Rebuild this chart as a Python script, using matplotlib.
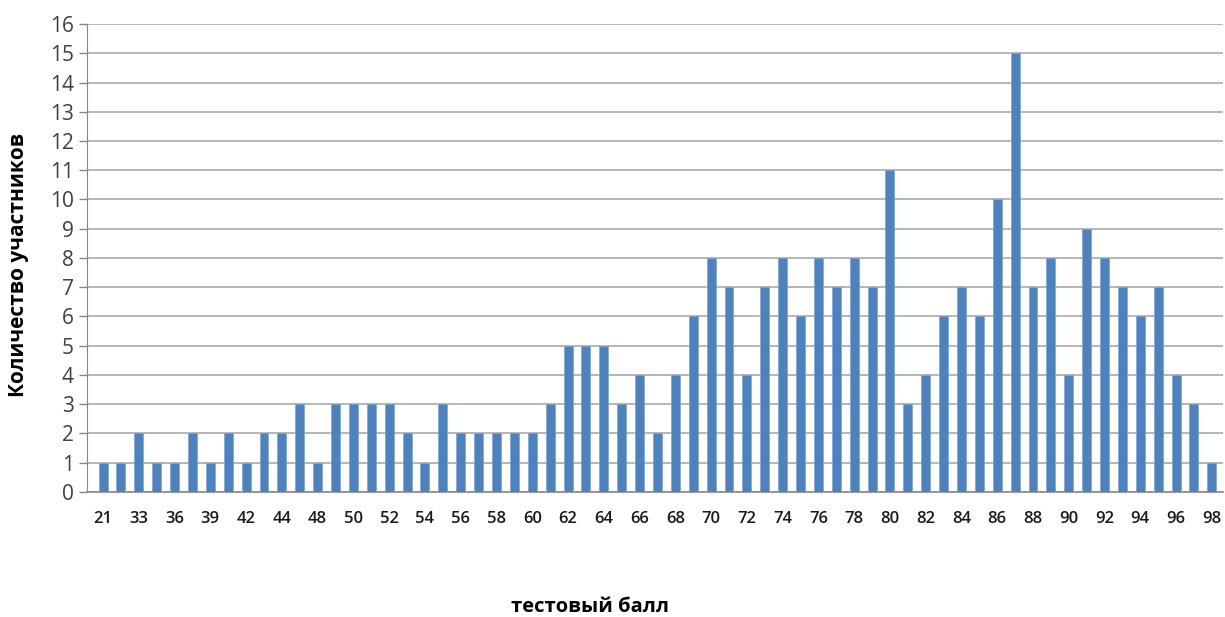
import matplotlib
matplotlib.use('Agg')
import matplotlib.pyplot as plt
import numpy as np

# test scores (hidden labels between shown ones are estimates)
scores = ['21', '30', '33', '35', '36', '38', '39', '41', '42', '43', '44', '46',
          '48', '49', '50', '51', '52', '53', '54', '55', '56', '57', '58', '59',
          '60', '61', '62', '63', '64', '65', '66', '67', '68', '69', '70', '71',
          '72', '73', '74', '75', '76', '77', '78', '79', '80', '81', '82', '83',
          '84', '85', '86', '87', '88', '89', '90', '91', '92', '93', '94', '95',
          '96', '97', '98']
counts = [1, 1, 2, 1, 1, 2, 1, 2, 1, 2, 2, 3,
          1, 3, 3, 3, 3, 2, 1, 3, 2, 2, 2, 2,
          2, 3, 5, 5, 5, 3, 4, 2, 4, 6, 8, 7,
          4, 7, 8, 6, 8, 7, 8, 7, 11, 3, 4, 6,
          7, 6, 10, 15, 7, 8, 4, 9, 8, 7, 6, 7,
          4, 3, 1]

plt.rcParams['font.family'] = ['Open Sans', 'DejaVu Sans']

fig = plt.figure(figsize=(12.25, 6.17), dpi=100)
ax = fig.add_axes([0.071, 0.203, 0.927, 0.758])

x = np.arange(len(scores))
ax.bar(x, counts, width=0.5, color='#4F81BD', edgecolor='#7FA3D0', linewidth=0.5, zorder=3)

ax.set_ylim(0, 16)
ax.set_yticks(range(0, 17))
ax.set_xlim(-0.9, len(scores) - 0.4)
ax.set_xticks(x[::2])
ax.set_xticklabels(scores[::2], fontsize=12, fontweight='semibold', color='#1a1a1a')
ax.tick_params(axis='x', length=0, pad=14)
ax.tick_params(axis='y', labelsize=15, colors='#404040', length=6, width=1, color='#888888')
ax.yaxis.grid(True, color='#AAAAAA', linewidth=1.2, zorder=0)

for s in ['top', 'right']:
    ax.spines[s].set_visible(False)
ax.spines['left'].set_color('#888888')
ax.spines['bottom'].set_color('#888888')
ax.spines['bottom'].set_linewidth(1.2)

fig.text(0.482, 0.017, 'тестовый балл', fontsize=14.5, fontweight='bold', ha='center', va='center')
fig.text(0.015, 0.57, 'Количество участников', fontsize=15, fontweight='bold',
         rotation=90, ha='center', va='center')

fig.savefig('out.png', dpi=100)
